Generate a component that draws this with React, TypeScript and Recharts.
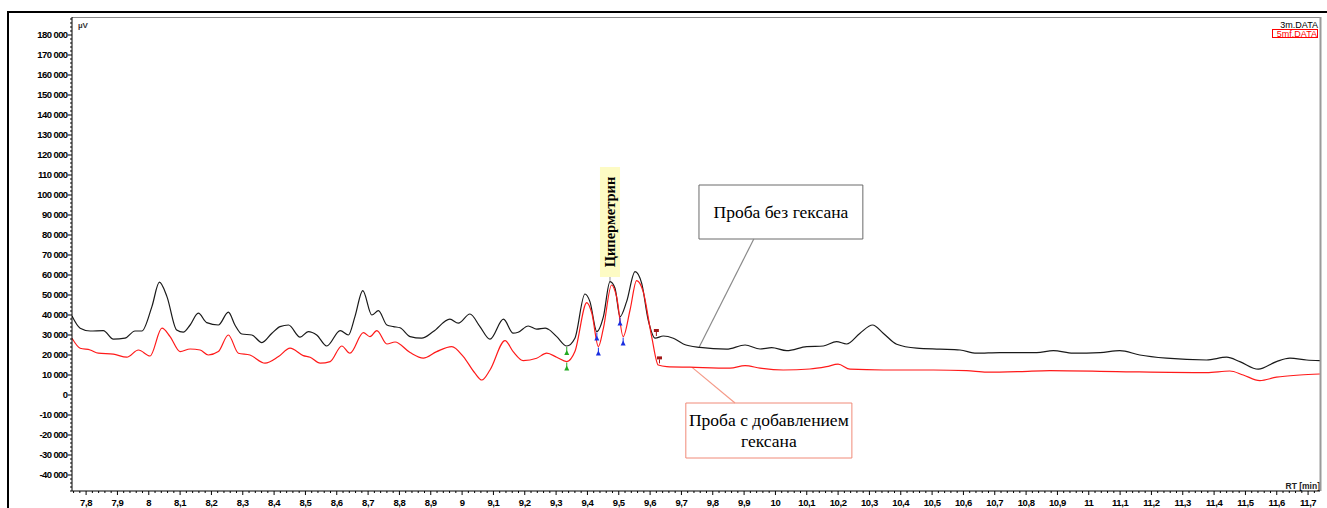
import React from 'react';
import {
  ComposedChart,
  Line,
  XAxis,
  YAxis,
  ReferenceArea,
  ReferenceLine,
  ReferenceDot,
  Customized,
} from 'recharts';

// Retention time (min) and detector signal (µV) for sample 3m (no hexane)
const rtNoHexane = [
  7.755, 7.781, 7.813, 7.855, 7.887, 7.924, 7.956, 7.978, 8.01, 8.034, 8.058, 8.089, 8.11, 8.132,
  8.158, 8.185, 8.222, 8.254, 8.275, 8.297, 8.329, 8.361, 8.393, 8.419, 8.446, 8.483, 8.509, 8.536,
  8.568, 8.611, 8.637, 8.658, 8.683, 8.712, 8.733, 8.76, 8.781, 8.802, 8.834, 8.871, 8.908, 8.961,
  8.988, 9.025, 9.057, 9.089, 9.132, 9.163, 9.179, 9.211, 9.238, 9.265, 9.275, 9.302, 9.334, 9.36,
  9.392, 9.408, 9.43, 9.451, 9.472, 9.488, 9.504, 9.525, 9.552, 9.573, 9.594, 9.616, 9.642, 9.674,
  9.706, 9.759, 9.844, 9.903, 9.951, 9.988, 10.036, 10.1, 10.153, 10.195, 10.227, 10.27, 10.31,
  10.344, 10.387, 10.451, 10.525, 10.589, 10.642, 10.716, 10.834, 10.887, 10.95, 11.036, 11.099,
  11.163, 11.248, 11.376, 11.44, 11.482, 11.541, 11.599, 11.642, 11.695, 11.737,
];
const uvNoHexane = [
  39500, 33400, 32000, 32200, 27900, 28400, 32000, 32000, 44200, 56400, 49200, 32500, 31400, 35000,
  40900, 36200, 35000, 41400, 35000, 30500, 30000, 26200, 30900, 34200, 35000, 28900, 31700, 30000,
  24500, 32200, 30000, 39200, 52200, 40000, 42200, 35000, 34200, 33600, 29200, 28400, 31700, 37900,
  35900, 40500, 34200, 27900, 37900, 30900, 31400, 34500, 32900, 33400, 32900, 29200, 24500, 28400,
  50500, 46700, 31700, 39200, 56700, 53400, 39200, 46700, 61700, 55900, 37500, 28400, 29500, 28400,
  25500, 23800, 22900, 25000, 23000, 23700, 22200, 24200, 24500, 26700, 25500, 30900, 35000,
  30900, 25400, 23400, 22900, 22500, 20900, 21200, 21200, 22200, 20900, 21200, 22200,
  20000, 18400, 17500, 18900, 16700, 12900, 16700, 18400, 17500, 17200,
];

// Retention time (min) and detector signal (µV) for sample 5mf (hexane added)
const rtHexane = [
  7.755, 7.781, 7.813, 7.839, 7.887, 7.93, 7.967, 8.004, 8.042, 8.068, 8.1, 8.132, 8.164, 8.19,
  8.222, 8.254, 8.286, 8.323, 8.371, 8.414, 8.451, 8.493, 8.515, 8.547, 8.579, 8.616, 8.642, 8.685,
  8.706, 8.728, 8.76, 8.786, 8.834, 8.876, 8.919, 8.967, 9.004, 9.041, 9.063, 9.089, 9.137, 9.163,
  9.195, 9.238, 9.27, 9.302, 9.334, 9.36, 9.398, 9.414, 9.435, 9.451, 9.477, 9.493, 9.514, 9.536,
  9.557, 9.578, 9.605, 9.626, 9.653, 9.727, 9.855, 9.903, 9.951, 10.025, 10.11, 10.163, 10.2,
  10.238, 10.344, 10.504, 10.61, 10.674, 10.78, 10.876, 11.089, 11.376, 11.45, 11.493, 11.546,
  11.599, 11.674, 11.737,
];
const uvHexane = [
  28400, 23400, 22500, 20900, 20400, 18900, 22500, 19500, 33400, 29200, 21700, 23000, 22500, 20000,
  21700, 30000, 20900, 20000, 15900, 19200, 23400, 19700, 18900, 15900, 16700, 24500, 20900, 31200,
  29200, 32200, 25500, 26500, 21200, 18400, 21700, 24200, 19200, 10900, 7500, 12500, 27200, 21700,
  17200, 18400, 20900, 18900, 16700, 21700, 46200, 40900, 24200, 33400, 55000, 49200, 29200, 42500,
  57200, 51700, 29200, 15000, 14200, 13900, 13400, 14700, 13400, 12500, 13000, 14200, 15400,
  12900, 12500, 12500, 12200, 11400, 11700, 12200, 11700, 11200, 12000, 10000, 7200,
  8900, 10000, 10500,
];

// Integration markers: start (green), valley (blue), end (dark red)
const startMarksRt = [9.334, 9.334];
const startMarksUv = [24500, 16700];
const valleyMarksRt = [9.43, 9.504, 9.435, 9.514];
const valleyMarksUv = [31700, 39200, 24200, 29200];
const endMarksRt = [9.62, 9.63];
const endMarksUv = [28500, 14800];

// Axis ticks
const rtDomain: [number, number] = [7.755, 11.738];
const uvDomain: [number, number] = [-48000, 189000];
const rtTicks: number[] = [];
for (let i = 388; i <= 586; i++) rtTicks.push(i / 50);
const uvTicks: number[] = [];
for (let v = -48000; v <= 188000; v += 2000) uvTicks.push(v);

const peakName = 'Циперметрин';
const labelNoHexane = 'Проба без гексана';
const labelHexane = ['Проба с добавлением', 'гексана'];

const rowsNoHexane = rtNoHexane.map((rt, i) => ({ rt, v: uvNoHexane[i] }));
const rowsHexane = rtHexane.map((rt, i) => ({ rt, v: uvHexane[i] }));

const tickFont = 'Liberation Sans, Arial, sans-serif';
const serif = 'Liberation Serif, Times New Roman, serif';

const fmtUv = (v: number) => {
  const s = Math.abs(v).toString().replace(/\B(?=(\d{3})+(?!\d))/g, ' ');
  return (v < 0 ? '-' : '') + s;
};
const fmtRt = (v: number) => {
  const t = Math.round(v * 10);
  return t % 10 === 0 ? String(t / 10) : (t / 10).toFixed(1).replace('.', ',');
};

const YTick = (props: any) => {
  const { x, y, payload } = props;
  const v = payload.value as number;
  const major = v % 10000 === 0 && v >= -40000 && v <= 180000;
  return (
    <g>
      <line x1={x} x2={x - (major ? 4 : 2)} y1={y} y2={y} stroke="#000" strokeWidth={1} />
      {major && (
        <text
          x={x - 4.5}
          y={y + 3.4}
          textAnchor="end"
          fontSize={9.5}
          fontWeight="bold"
          letterSpacing={-0.6}
          fontFamily={tickFont}
          fill="#000"
        >
          {fmtUv(v)}
        </text>
      )}
    </g>
  );
};

const XTick = (props: any) => {
  const { x, y, payload } = props;
  const v = payload.value as number;
  const major = Math.round(v * 50) % 5 === 0;
  return (
    <g>
      <line x1={x} x2={x} y1={y} y2={y + (major ? 4 : 2)} stroke="#000" strokeWidth={1} />
      {major && (
        <text
          x={x}
          y={y + 14.5}
          textAnchor="middle"
          fontSize={9.5}
          fontWeight="bold"
          letterSpacing={-0.4}
          fontFamily={tickFont}
          fill="#000"
        >
          {fmtRt(v)}
        </text>
      )}
    </g>
  );
};

const StartMark = (props: any) => {
  const { cx, cy, fill } = props;
  return (
    <g>
      <line x1={cx} x2={cx} y1={cy + 1} y2={cy + 6} stroke={fill} strokeWidth={1} />
      <path d={`M${cx - 2.5},${cy + 9} L${cx + 2.5},${cy + 9} L${cx},${cy + 4} Z`} fill={fill} />
    </g>
  );
};

const EndMark = (props: any) => {
  const { cx, cy, fill } = props;
  return (
    <g>
      <rect x={cx - 2.5} y={cy - 9} width={5} height={3} fill={fill} />
      <line x1={cx} x2={cx} y1={cy - 6} y2={cy - 2} stroke={fill} strokeWidth={1} />
    </g>
  );
};

const BoxLabel = (lines: string[]) => (props: any) => {
  const { viewBox } = props;
  const cx = viewBox.x + viewBox.width / 2;
  const cy = viewBox.y + viewBox.height / 2;
  const lh = 21;
  const top = cy - ((lines.length - 1) * lh) / 2 + 6;
  return (
    <text textAnchor="middle" fontSize={17.5} fontFamily={serif} fill="#000">
      {lines.map((l, i) => (
        <tspan key={i} x={cx} y={top + i * lh}>
          {l}
        </tspan>
      ))}
    </text>
  );
};

const PeakLabel = (props: any) => {
  const { viewBox } = props;
  const cx = viewBox.x + viewBox.width / 2;
  const cy = viewBox.y + viewBox.height / 2;
  return (
    <text
      x={cx}
      y={cy}
      transform={`rotate(-90 ${cx} ${cy})`}
      textAnchor="middle"
      dy={5}
      fontSize={14.5}
      fontWeight="bold"
      fontFamily={serif}
      fill="#000"
    >
      {peakName}
    </text>
  );
};

const Decorations = () => (
  <g>
    <text x={78} y={28} fontSize={8} fontWeight="bold" fontFamily={tickFont} fill="#333">
      µV
    </text>
    <text x={1318} y={28} textAnchor="end" fontSize={9} fontFamily={tickFont} fill="#000">
      3m.DATA
    </text>
    <rect x={1272.5} y={29.5} width={45} height={8} fill="none" stroke="#ff0000" strokeWidth={1} />
    <text x={1317} y={36.5} textAnchor="end" fontSize={9} fontFamily={tickFont} fill="#ff0000">
      5mf.DATA
    </text>
    <text x={1320} y={489} textAnchor="end" fontSize={8.5} fontWeight="bold" fontFamily={tickFont} fill="#222">
      RT [min]
    </text>
    <line x1={72} x2={1321} y1={17.5} y2={17.5} stroke="#8a8a8a" strokeWidth={1} />
    <line x1={1320.5} x2={1320.5} y1={17} y2={491} stroke="#9a9a9a" strokeWidth={2} />
    <line x1={8} x2={1327} y1={12} y2={12} stroke="#000" strokeWidth={2} />
    <line x1={8} x2={8} y1={11} y2={508} stroke="#000" strokeWidth={2} />
  </g>
);

export default function App() {
  return (
    <div style={{ position: 'absolute', left: 0, top: 0, width: 1327, height: 508, background: '#fff' }}>
      <ComposedChart
        width={1327}
        height={508}
        margin={{ top: 17, right: 7, bottom: 0, left: 8 }}
      >
        <XAxis
          type="number"
          dataKey="rt"
          domain={rtDomain}
          allowDataOverflow
          ticks={rtTicks}
          interval={0}
          tick={<XTick />}
          tickSize={0}
          tickMargin={0}
          tickLine={false}
          axisLine={{ stroke: '#000', strokeWidth: 1 }}
          height={17}
        />
        <YAxis
          type="number"
          dataKey="v"
          domain={uvDomain}
          allowDataOverflow
          ticks={uvTicks}
          interval={0}
          tick={<YTick />}
          tickSize={0}
          tickMargin={0}
          tickLine={false}
          axisLine={{ stroke: '#000', strokeWidth: 1 }}
          width={64}
        />
        <Customized component={Decorations} />

        <ReferenceArea
          x1={9.44}
          x2={9.504}
          y1={59000}
          y2={114000}
          fill="#fdfbc4"
          fillOpacity={1}
          stroke="none"
          label={<PeakLabel />}
        />
        <ReferenceLine
          segment={[{ x: 9.472, y: 59000 }, { x: 9.472, y: 56700 }]}
          stroke="#999"
          strokeWidth={1}
        />

        <ReferenceArea
          x1={9.756}
          x2={10.279}
          y1={78000}
          y2={105000}
          fill="#fff"
          fillOpacity={1}
          stroke="#6a6a6a"
          strokeWidth={1}
          label={BoxLabel([labelNoHexane])}
        />
        <ReferenceLine
          segment={[{ x: 9.931, y: 78000 }, { x: 9.756, y: 23700 }]}
          stroke="#8a8a8a"
          strokeWidth={1.2}
        />

        <ReferenceArea
          x1={9.714}
          x2={10.244}
          y1={-31500}
          y2={-4000}
          fill="#fff"
          fillOpacity={1}
          stroke="#f08a78"
          strokeWidth={1}
          label={BoxLabel(labelHexane)}
        />
        <ReferenceLine
          segment={[{ x: 9.871, y: -4000 }, { x: 9.734, y: 13800 }]}
          stroke="#f59a88"
          strokeWidth={1.2}
        />

        <Line
          data={rowsNoHexane}
          dataKey="v"
          type="monotone"
          stroke="#1a1a1a"
          strokeWidth={1.2}
          dot={false}
          isAnimationActive={false}
        />
        <Line
          data={rowsHexane}
          dataKey="v"
          type="monotone"
          stroke="#ff1a1a"
          strokeWidth={1.2}
          dot={false}
          isAnimationActive={false}
        />

        {startMarksRt.map((rt, i) => (
          <ReferenceDot key={`s${i}`} x={rt} y={startMarksUv[i]} fill="#22aa22" shape={<StartMark />} />
        ))}
        {valleyMarksRt.map((rt, i) => (
          <ReferenceDot key={`v${i}`} x={rt} y={valleyMarksUv[i]} fill="#1a2ee0" shape={<StartMark />} />
        ))}
        {endMarksRt.map((rt, i) => (
          <ReferenceDot key={`e${i}`} x={rt} y={endMarksUv[i]} fill="#a01818" shape={<EndMark />} />
        ))}
      </ComposedChart>
    </div>
  );
}
